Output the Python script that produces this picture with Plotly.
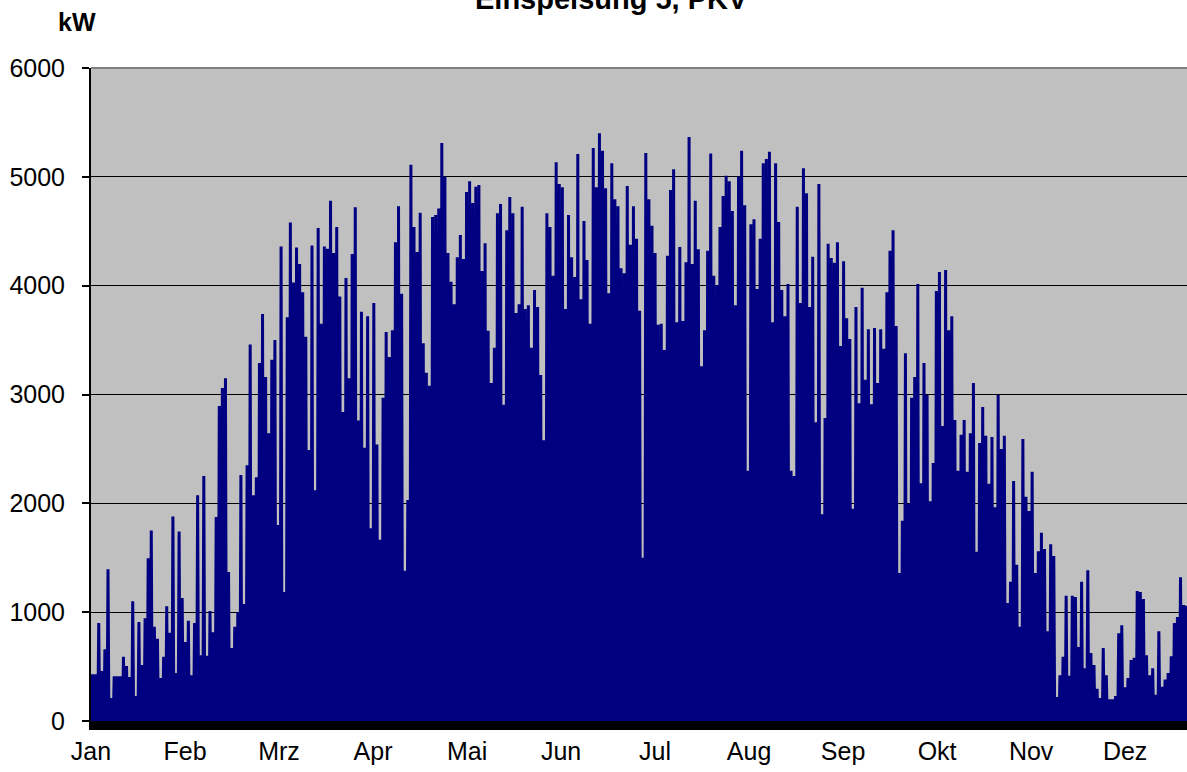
import numpy as np
import plotly.graph_objects as go

# Daily peak feed-in (kW), day by day
peaks_jan_feb = [430, 430, 900, 460, 660, 1395, 210, 410, 410, 410, 590, 505, 405, 1100, 230, 910, 515,
                 945, 1495, 1750, 865, 755, 395, 590, 1055, 810, 1880, 440, 1740, 1130, 725, 920, 420,
                 900, 2075, 605, 2250, 600, 1010, 815, 1875, 2895, 3060, 3150, 1370, 670, 865, 1000,
                 2260, 1075, 2350]
peaks_feb_mar = [3460, 2075, 2240, 3290, 3740, 3160, 2645, 3320, 3500, 1800, 4360, 1185, 3710, 4580,
                 4030, 4350, 4200, 3940, 3530, 2490, 4370, 2120, 4530, 3650, 4360, 4340, 4780, 4300,
                 4540, 3900, 2840, 4070, 3150, 4290, 4720, 2760, 3760, 2510, 3720, 1770, 3840, 2540, 1665]
peaks_apr_jul = [2970, 3575, 3345, 3590, 4400, 4730, 3925, 1380, 2030, 5110, 4540, 4310, 4670, 3470,
                 3200, 3080, 4630, 4650, 4710, 5310, 5000, 4300, 4035, 3830, 4260, 4465, 4245, 4860,
                 4960, 4760, 4910, 4925, 4135, 4390, 3585, 3105, 3430, 4665, 4750, 2905, 4510, 4815,
                 4665, 3750, 3830, 4725, 3785, 3820, 3430, 3960, 3805, 3180, 2580, 4665, 4540, 4090,
                 5135, 4935, 4905, 3785, 4650, 4260, 4080, 5210, 3875, 4595, 4235, 3650, 5265, 4905,
                 5400, 5240, 4895, 3930, 5125, 4795, 4730, 4160, 4115, 4915, 4375, 4730, 4430, 3770,
                 1500, 5220, 4795, 4550, 4300, 3640, 3650, 3410, 4275, 4880, 5070, 3665, 4355]
peaks_jul_okt = [3675, 4215, 5365, 4200, 4780, 4335, 3260, 3590, 4320, 5215, 4090, 4005, 4540, 4825,
                 5010, 4960, 4685, 3820, 5000, 5240, 4740, 2300, 4565, 4610, 3970, 4430, 5125, 5165,
                 5230, 3665, 5125, 4585, 3960, 3720, 4015, 2300, 2250, 4725, 3840, 5080, 4850, 3805,
                 4265, 2745, 4935, 1900, 2785, 4385, 4255, 4210, 4400, 3445, 4225, 3700, 3510, 1950,
                 3805, 2920, 3980, 3135, 3600, 2910, 3610, 3105, 3600, 3420, 3940, 4320, 4510, 3630,
                 1360, 1840, 3380, 1995, 2970, 3160, 4015, 2185, 3290, 2995, 2020, 2370, 3950, 4125,
                 2710, 4145, 3590, 3720, 2765]
peaks_okt_dez = [2300, 2630, 2765, 2290, 2645, 3105, 1555, 2555, 2885, 2620, 2180, 2610, 1965, 2995,
                 2500, 2620, 1085, 1280, 2205, 1435, 865, 2590, 2060, 1930, 2290, 1360, 1560, 1730,
                 1580, 825, 1625, 1515, 220, 420, 590, 1150, 415, 1150, 1140, 680, 1280, 485, 1385,
                 625, 515, 295, 210, 670, 420, 200, 200, 230, 805, 880, 310, 395, 560, 580, 1195,
                 1185, 1120, 605, 420, 485, 240, 825, 315, 380, 440, 595, 900, 955, 1320, 1065, 1060]
night_value = 0  # kW at night

months = ["Jan", "Feb", "Mrz", "Apr", "Mai", "Jun", "Jul", "Aug", "Sep", "Okt", "Nov", "Dez"]
y_ticks = [0, 1000, 2000, 3000, 4000, 5000, 6000]

peaks = np.array(peaks_jan_feb + peaks_feb_mar + peaks_apr_jul + peaks_jul_okt + peaks_okt_dez, dtype=float)
days = np.arange(len(peaks), dtype=float)
night = np.full_like(peaks, night_value)
x = np.column_stack([days + 0.2, days + 0.5, days + 0.8]).ravel()
y = np.column_stack([night, peaks, night]).ravel()

FONT = "Liberation Sans, Arial, sans-serif"
PLOT_L, PLOT_T, PLOT_W, PLOT_H = 91, 68, 1096, 653

fig = go.Figure()
fig.add_trace(go.Scatter(x=x, y=y, mode="lines", line=dict(color="#000080", width=3),
                         hoverinfo="skip", showlegend=False))

fig.update_layout(
    width=1187, height=772,
    margin=dict(l=PLOT_L, r=0, t=PLOT_T, b=772 - PLOT_T - PLOT_H, autoexpand=False),
    paper_bgcolor="white", plot_bgcolor="#C0C0C0",
    font=dict(family=FONT, size=25, color="black"),
    showlegend=False,
    xaxis=dict(
        range=[0, 354.6], tickmode="array", automargin=False,
        tickvals=[i * 365 / 12 for i in range(12)], ticktext=months,
        showgrid=False, zeroline=False,
        showline=True, linecolor="black", linewidth=9,
        ticks="", ticklabelstandoff=0,
        tickfont=dict(family=FONT, size=25, color="black"),
    ),
    yaxis=dict(
        range=[0, 6000], tickmode="array", tickvals=y_ticks, automargin=False,
        showgrid=True, gridcolor="black", gridwidth=1,
        zeroline=False, showline=True, linecolor="black", linewidth=2,
        ticks="outside", ticklen=7, tickcolor="black", tickwidth=1.5,
        ticklabelstandoff=12,
        tickfont=dict(family=FONT, size=25, color="black"),
    ),
    shapes=[dict(type="line", xref="paper", yref="paper", x0=0, x1=1, y0=1, y1=1,
                 line=dict(color="#808080", width=2))],
    annotations=[
        dict(text="<b>Einspeisung 5, PKV</b>", xref="paper", yref="paper",
             x=(611 - PLOT_L) / PLOT_W, y=1 + (PLOT_T + 0.5) / PLOT_H, xanchor="center", yanchor="middle",
             showarrow=False, font=dict(family=FONT, size=29, color="black")),
        dict(text="<b>kW</b>", xref="paper", yref="paper",
             x=(77 - PLOT_L) / PLOT_W, y=1 + (PLOT_T - 22) / PLOT_H, xanchor="center", yanchor="middle",
             showarrow=False, font=dict(family=FONT, size=25, color="black")),
    ],
)

fig.write_html("out.html", config={"displayModeBar": False},
               post_script="document.body.style.margin='0';document.body.style.overflow='hidden';")
